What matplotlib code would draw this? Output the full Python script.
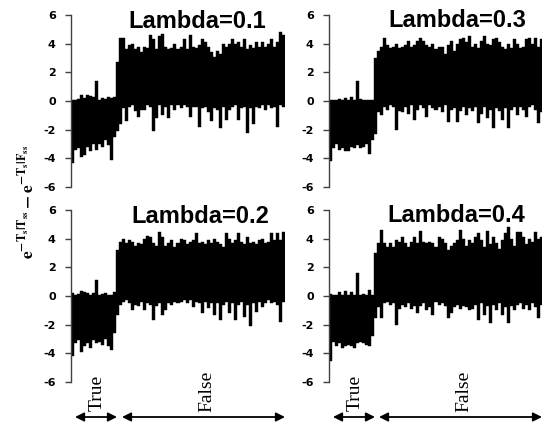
import matplotlib
matplotlib.use('Agg')
import matplotlib.pyplot as plt
import numpy as np

# ---------------- data (spike envelopes, upper / lower per x-bin) ----------------
yticks = [-6, -4, -2, 0, 2, 4, 6]
ytick_labels = ['-6', '-4', '-2', '0', '2', '4', '6']
titles = ['Lambda=0.1', 'Lambda=0.3', 'Lambda=0.2', 'Lambda=0.4']
region_labels = ['True', 'False']
n_true = 15

tl_hi = [0.05, 0.1, 0.15, 0.45, 0.2, 0.4, 0.35, 0.3, 1.4, 0.1, 0.2, 0.15, 0.3, 0.2, 0.3,
         2.7, 4.4, 4.4, 3.6, 3.9, 4.0, 3.6, 3.8, 3.4, 3.8, 3.7, 4.6, 4.3, 3.6, 4.5, 4.7,
         3.8, 3.6, 3.7, 4.0, 3.6, 3.8, 4.3, 3.6, 4.6, 3.8, 3.7, 3.9, 4.3, 4.1, 3.8, 3.4,
         3.1, 3.5, 3.3, 4.0, 3.8, 4.0, 4.3, 4.0, 4.1, 3.8, 4.3, 3.6, 3.9, 3.7, 4.1, 3.8,
         4.1, 3.8, 4.0, 4.3, 3.8, 4.1, 4.8, 4.6]
tl_lo = [-4.3, -3.4, -3.3, -3.9, -3.8, -3.2, -3.5, -3.0, -3.4, -3.0, -3.2, -2.7, -3.1, -4.1, -2.5,
         -2.1, -1.6, -0.5, -1.4, -0.4, -0.3, -0.7, -1.1, -0.6, -0.6, -0.3, -0.4, -2.1, -1.2,
         -0.3, -1.0, -0.4, -1.2, -0.3, -0.6, -0.3, -0.5, -0.3, -0.4, -1.1, -0.4, -0.4, -1.8,
         -0.5, -0.4, -0.8, -1.4, -0.5, -0.6, -1.9, -0.4, -1.3, -0.6, -0.4, -0.3, -1.3, -0.5,
         -0.4, -2.25, -0.5, -1.6, -0.4, -0.5, -0.3, -0.6, -0.3, -0.5, -0.4, -1.8, -0.3, -0.4]

tr_hi = [0.05, 0.1, 0.1, 0.15, 0.1, 0.2, 0.1, 0.25, 0.1, 1.4, 0.15, 0.1, 0.1, 0.05, 0.1,
         3.0, 3.5, 3.8, 4.4, 3.9, 3.7, 3.8, 4.0, 3.7, 3.8, 3.9, 4.2, 3.8, 3.9, 4.2, 4.4,
         4.2, 3.9, 3.8, 4.0, 3.6, 3.8, 3.8, 3.3, 3.9, 4.2, 3.5, 4.0, 4.3, 4.4, 4.1, 4.5,
         3.8, 4.0, 3.7, 4.2, 4.5, 4.0, 3.9, 4.3, 4.4, 4.1, 3.8, 3.6, 4.0, 3.7, 4.3, 4.0,
         3.7, 3.8, 4.3, 4.4, 4.0, 4.4, 3.8, 4.3]
tr_lo = [-4.2, -3.3, -3.0, -3.4, -3.3, -3.5, -3.5, -3.2, -3.3, -3.1, -3.3, -3.2, -3.0, -3.7, -2.7,
         -2.3, -0.8, -1.0, -0.4, -0.6, -0.3, -0.4, -2.0, -0.7, -0.8, -0.4, -0.9, -0.3, -1.3,
         -0.6, -0.3, -0.5, -1.1, -0.3, -0.5, -0.6, -0.4, -0.8, -0.3, -1.45, -0.6, -0.5, -1.45,
         -0.7, -0.4, -1.0, -0.5, -0.7, -0.4, -1.55, -0.9, -0.4, -1.2, -0.6, -1.9, -0.5, -0.7,
         -1.3, -0.5, -1.9, -0.6, -0.4, -1.0, -0.4, -0.6, -1.1, -0.4, -0.3, -0.6, -1.55, -0.8]

bl_hi = [0.2, 0.1, 0.15, 0.35, 0.3, 0.2, 0.1, 0.2, 1.1, 0.1, 0.15, 0.2, 0.1, 0.1, 0.25,
         3.2, 3.8, 4.0, 3.7, 3.9, 3.8, 3.5, 3.7, 3.6, 4.0, 4.2, 4.1, 3.7, 3.5, 4.5, 4.1,
         3.5, 3.7, 3.9, 3.4, 3.7, 4.0, 3.9, 3.6, 3.8, 3.9, 4.4, 3.7, 3.8, 3.6, 3.9, 3.7,
         4.0, 3.8, 3.6, 3.4, 4.4, 4.0, 3.7, 3.9, 4.4, 3.8, 3.6, 4.1, 3.7, 3.8, 3.6, 3.9,
         4.0, 3.7, 3.8, 4.4, 3.9, 4.4, 3.9, 4.5]
bl_lo = [-4.2, -3.3, -3.1, -3.9, -3.5, -3.3, -3.6, -3.1, -3.3, -3.2, -3.4, -3.0, -3.5, -3.8, -2.6,
         -1.3, -0.6, -0.4, -0.3, -0.5, -1.0, -0.6, -0.7, -0.4, -1.0, -0.5, -0.6, -1.7, -0.7,
         -0.5, -1.3, -1.0, -0.5, -0.6, -0.4, -0.5, -0.4, -0.3, -0.5, -0.3, -0.75, -0.4, -0.5,
         -1.2, -0.4, -0.85, -0.5, -1.3, -0.5, -1.7, -0.6, -0.4, -1.2, -0.5, -1.7, -0.6, -0.4,
         -1.45, -0.6, -2.1, -0.5, -1.1, -0.4, -0.75, -0.5, -0.3, -0.5, -0.4, -0.6, -1.8, -0.4]

br_hi = [0.15, 0.1, 0.1, 0.3, 0.1, 0.35, 0.1, 0.3, 0.1, 1.6, 0.1, 0.15, 0.1, 0.4, 0.1,
         3.0, 3.7, 4.6, 3.7, 3.4, 3.7, 3.4, 3.9, 3.8, 4.1, 3.7, 3.4, 3.8, 4.1, 3.7, 4.5,
         3.8, 3.7, 3.8, 3.7, 3.4, 4.1, 4.0, 3.7, 3.2, 3.5, 3.7, 3.9, 4.6, 4.0, 3.5, 3.9,
         3.7, 4.1, 4.4, 3.9, 3.4, 4.5, 3.6, 4.1, 3.7, 3.3, 3.9, 4.4, 4.8, 4.0, 3.5, 4.5,
         4.5, 4.1, 3.6, 4.0, 3.8, 4.5, 4.0, 4.1]
br_lo = [-4.5, -3.2, -3.5, -3.3, -3.65, -3.5, -3.4, -3.5, -3.6, -3.3, -3.2, -3.3, -3.4, -3.5, -2.8,
         -1.55, -0.8, -1.55, -0.5, -0.4, -0.6, -0.5, -2.0, -0.9, -0.6, -0.8, -0.5, -0.9, -0.7,
         -1.2, -0.7, -0.5, -1.0, -0.8, -1.3, -0.4, -0.6, -0.5, -0.7, -1.55, -1.2, -0.8, -0.6,
         -0.9, -0.7, -0.8, -1.0, -0.9, -0.6, -1.7, -0.5, -1.3, -0.7, -1.9, -0.6, -1.0, -0.5,
         -1.3, -0.8, -1.9, -0.7, -1.0, -0.6, -0.5, -0.9, -0.6, -1.0, -0.5, -0.8, -1.55, -0.6]

# ---------------- layout (pixels, origin top-left) ----------------
W, H = 542, 425
fig = plt.figure(figsize=(W / 100, H / 100), dpi=100)
fig.patch.set_facecolor('white')
plt.rcParams['mathtext.fontset'] = 'stix'


def rect(x0, y0, x1, y1):
    return [x0 / W, 1 - y1 / H, (x1 - x0) / W, (y1 - y0) / H]


panels = [
    (titles[0], tl_hi, tl_lo, (71, 15, 285, 187), (197, 28)),
    (titles[1], tr_hi, tr_lo, (329, 15, 543, 187), (457, 27)),
    (titles[2], bl_hi, bl_lo, (71, 210, 285, 382), (200, 223)),
    (titles[3], br_hi, br_lo, (329, 210, 543, 382), (456, 222)),
]

for title, hi, lo, r, tpos in panels:
    ax = fig.add_axes(rect(*r))
    hi = np.asarray(hi)
    lo = np.asarray(lo)
    x = np.arange(len(hi))
    ax.bar(x, hi - lo, bottom=lo, width=1.0, color='black',
           edgecolor='black', linewidth=0.3)
    ax.set_xlim(-0.5, len(hi) - 0.5)
    ax.set_ylim(-6, 6)
    ax.set_yticks(yticks)
    ax.set_yticklabels(ytick_labels, fontfamily='DejaVu Sans',
                       fontweight='bold', fontsize=8)
    ax.set_xticks([])
    for s in ['top', 'right', 'bottom']:
        ax.spines[s].set_visible(False)
    ax.spines['left'].set_linewidth(1.0)
    ax.spines['left'].set_color('#404040')
    ax.tick_params(axis='y', length=4, width=1.0, color='#404040', pad=7)
    ax.patch.set_alpha(0)

# overlay for text and arrows
ov = fig.add_axes([0, 0, 1, 1])
ov.set_xlim(0, W)
ov.set_ylim(H, 0)
ov.axis('off')
ov.patch.set_alpha(0)

for title, hi, lo, r, tpos in panels:
    ov.text(tpos[0], tpos[1], title, ha='center', va='baseline',
            fontsize=17, fontweight='bold', fontfamily='Liberation Sans')

ov.text(27, 202, r'$\mathbf{e^{-T_s|T_{ss}}-e^{-T_s|F_{ss}}}$', rotation=90,
        ha='center', va='center', fontsize=12.5)

arrows = [(75, 117), (122, 285), (333, 375), (379, 542)]
for a, b in arrows:
    ov.annotate('', xy=(b, 417), xytext=(a, 417),
                arrowprops=dict(arrowstyle='<|-|>', color='black', lw=1.3,
                                mutation_scale=13, shrinkA=0, shrinkB=0))

text_pos = [(97, 393, region_labels[0]), (207, 391, region_labels[1]),
            (355, 393, region_labels[0]), (464, 391, region_labels[1])]
for tx, ty, s in text_pos:
    ov.text(tx, ty, s, rotation=90, ha='center', va='center',
            fontsize=14, fontfamily='Liberation Serif')

fig.savefig('out.png', dpi=100)
